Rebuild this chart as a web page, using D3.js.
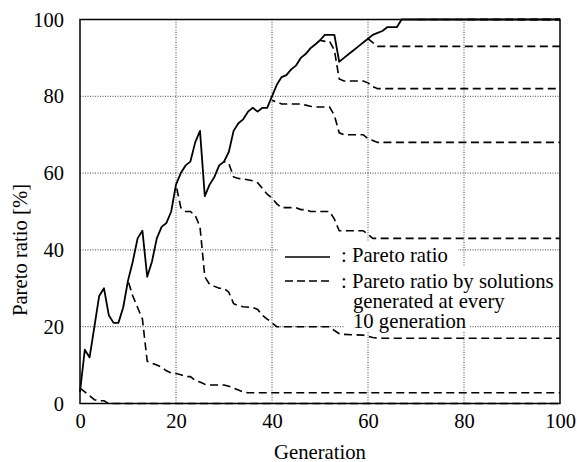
<!DOCTYPE html>
<html>
<head>
<meta charset="utf-8">
<script src="https://cdn.jsdelivr.net/npm/d3@7"></script>
<style>
  body { margin: 0; background: #fff; }
  svg { display: block; }
  text { font-family: "Liberation Serif", "Times New Roman", serif; fill: #000; }
</style>
</head>
<body>
<div id="chart"></div>
<script>
// ticks on both axes
let xTicks = [0, 20, 40, 60, 80, 100];
let yTicks = [0, 20, 40, 60, 80, 100];

// overall pareto ratio, [generation, %]
let paretoRatio = [
  [0, 3], [1, 14], [2, 12], [3, 20], [4, 28], [5, 30], [6, 23], [7, 21], [8, 21], [9, 25],
  [10, 32], [11, 37], [12, 43], [13, 45], [14, 33], [15, 37], [16, 43], [17, 46], [18, 47], [19, 50],
  [20, 57], [21, 60], [22, 62], [23, 63], [24, 68], [25, 71], [26, 54], [27, 57], [28, 59], [29, 62],
  [30, 63], [31, 65.5], [32, 71], [33, 73], [34, 74], [35, 76], [36, 77], [37, 76], [38, 77], [39, 77],
  [40, 80], [41, 83], [42, 85], [43, 85.5], [44, 87], [45, 88], [46, 90], [47, 91], [48, 92.5], [49, 93.5],
  [50, 94.6], [51, 96], [52, 96], [53, 96], [54, 89], [55, 90], [56, 91], [57, 92], [58, 93], [59, 94],
  [60, 95], [61, 96], [62, 96.5], [63, 97], [64, 98], [65, 98], [66, 98], [67, 100], [100, 100]
];

// pareto ratio of the solutions generated at generation 0, 10, 20, ...
let gen0 = [[0, 4], [1, 3], [2, 2], [3, 1], [4, 0.7], [5, 0.7], [6, 0], [100, 0]];
let gen10 = [[10, 32], [11, 28], [12, 25], [13, 22], [14, 11], [15, 10.5], [16, 10], [17, 9.5], [18, 8.5],
  [19, 8], [20, 7.8], [21, 7.5], [22, 7], [23, 7], [24, 6], [25, 5.6], [26, 5], [27, 4.8], [30, 4.8],
  [31, 4.5], [32, 4], [33, 3.5], [34, 3], [35, 2.8], [100, 2.8]];
let gen20 = [[20, 57], [21, 51], [22, 50], [23, 50], [24, 49], [25, 46], [26, 33], [27, 31], [28, 30.5],
  [29, 30], [30, 30], [31, 29], [32, 26], [33, 25.5], [34, 25.2], [36, 25], [37, 24.5], [38, 23], [39, 22],
  [40, 21], [41, 20], [52, 20], [53, 19], [54, 18.2], [55, 18], [59, 17.8], [60, 17.5], [61, 17.2],
  [62, 17], [100, 17]];
let gen30 = [[30, 63], [31, 62.5], [32, 59], [33, 58.6], [34, 58.5], [36, 58], [37, 57.5], [38, 56],
  [39, 54.5], [40, 53.5], [41, 52], [42, 51], [45, 51], [46, 50.5], [47, 50.5], [48, 50], [52, 50],
  [53, 48], [54, 45], [59, 45], [60, 44], [61, 43], [100, 43]];
let gen40 = [[40, 79], [41, 78.5], [42, 78], [46, 78], [47, 77.7], [48, 77.4], [49, 77.2], [52, 77.2],
  [53, 75], [54, 70.5], [55, 70], [59, 70], [60, 69], [61, 68.5], [62, 68], [100, 68]];
let gen50 = [[50, 94.6], [51, 94.3], [52, 94.3], [53, 92], [54, 84.5], [55, 84], [59, 84], [60, 83.5],
  [61, 82.5], [62, 82], [100, 82]];
let gen60 = [[60, 95], [61, 94], [62, 93], [100, 93]];
let gen70 = [[70, 100], [100, 100]];
let gen80 = [[80, 100], [100, 100]];
let gen90 = [[90, 100], [100, 100]];

let legendLines = [": Pareto ratio", ": Pareto ratio by solutions", "generated at every", "10 generation"];

let W = 577, H = 462;
let margin = { top: 19.5, left: 80, right: 17, bottom: 58.5 };
let width = W - margin.left - margin.right,
  height = H - margin.top - margin.bottom;

let svg = d3.select("#chart").append("svg")
  .attr("width", W)
  .attr("height", H);

let g = svg.append("g").attr("transform", `translate(${margin.left},${margin.top})`);

let x = d3.scaleLinear().domain([0, 100]).range([0, width]);
let y = d3.scaleLinear().domain([0, 100]).range([height, 0]);

// dotted grid
g.append("g").selectAll("line.vg")
  .data(xTicks.slice(1, -1))
  .join("line")
  .attr("x1", d => x(d)).attr("x2", d => x(d))
  .attr("y1", 0).attr("y2", height)
  .attr("stroke", "#444").attr("stroke-width", 1).attr("stroke-dasharray", "1,1.5");
g.append("g").selectAll("line.hg")
  .data(yTicks.slice(1, -1))
  .join("line")
  .attr("x1", 0).attr("x2", width)
  .attr("y1", d => y(d)).attr("y2", d => y(d))
  .attr("stroke", "#444").attr("stroke-width", 1).attr("stroke-dasharray", "1,1.5");

// white patches behind the legend rows
let legendBoxes = [
  [278 - margin.left, 242 - margin.top, 180, 24],
  [278 - margin.left, 266 - margin.top, 280, 27],
  [345 - margin.left, 293 - margin.top, 213, 19],
  [345 - margin.left, 312 - margin.top, 125, 19]
];
g.append("g").selectAll("rect")
  .data(legendBoxes)
  .join("rect")
  .attr("x", d => d[0]).attr("y", d => d[1])
  .attr("width", d => d[2]).attr("height", d => d[3])
  .attr("fill", "#fff");

let line = d3.line().x(d => x(d[0])).y(d => y(d[1]));

// dashed series
let dashedSeries = [gen0, gen10, gen20, gen30, gen40, gen50, gen60, gen70, gen80, gen90];
g.append("g").selectAll("path")
  .data(dashedSeries)
  .join("path")
  .attr("d", line)
  .attr("fill", "none")
  .attr("stroke", "#000")
  .attr("stroke-width", 1.6)
  .attr("stroke-dasharray", "8,4.5")
  .attr("stroke-dashoffset", d => x(d[0][0]) % 12.5);

// solid series
g.append("path")
  .datum(paretoRatio)
  .attr("d", line)
  .attr("fill", "none")
  .attr("stroke", "#000")
  .attr("stroke-width", 1.8)
  .attr("stroke-linejoin", "round");

// frame
g.append("rect")
  .attr("width", width).attr("height", height)
  .attr("fill", "none").attr("stroke", "#000").attr("stroke-width", 1.5);

// axes
let xAxis = g.append("g")
  .attr("transform", `translate(0,${height})`)
  .call(d3.axisBottom(x).tickValues(xTicks).tickSize(0).tickPadding(10));
let yAxis = g.append("g")
  .call(d3.axisLeft(y).tickValues(yTicks).tickSize(0).tickPadding(16));
[xAxis, yAxis].forEach(a => {
  a.select(".domain").remove();
  a.selectAll("text").attr("font-size", 20.5).attr("font-family", "Liberation Serif");
});
xAxis.selectAll("text").attr("dy", "0.71em");

// axis titles
svg.append("text")
  .attr("x", margin.left + width / 2)
  .attr("y", 459)
  .attr("text-anchor", "middle")
  .attr("font-size", 20.7)
  .text("Generation");
svg.append("text")
  .attr("transform", `translate(27,250) rotate(-90)`)
  .attr("text-anchor", "middle")
  .attr("font-size", 20.7)
  .text("Pareto ratio [%]");

// legend
let lg = svg.append("g");
lg.append("line")
  .attr("x1", 285).attr("x2", 330).attr("y1", 257).attr("y2", 257)
  .attr("stroke", "#000").attr("stroke-width", 1.5);
lg.append("line")
  .attr("x1", 285).attr("x2", 330).attr("y1", 281).attr("y2", 281)
  .attr("stroke", "#000").attr("stroke-width", 1.5).attr("stroke-dasharray", "8,4");
let legendPos = [[341, 262], [341, 288], [353, 308], [353, 328]];
lg.selectAll("text")
  .data(legendLines)
  .join("text")
  .attr("x", (d, i) => legendPos[i][0])
  .attr("y", (d, i) => legendPos[i][1])
  .attr("font-size", 20.7)
  .text(d => d);
</script>
</body>
</html>
